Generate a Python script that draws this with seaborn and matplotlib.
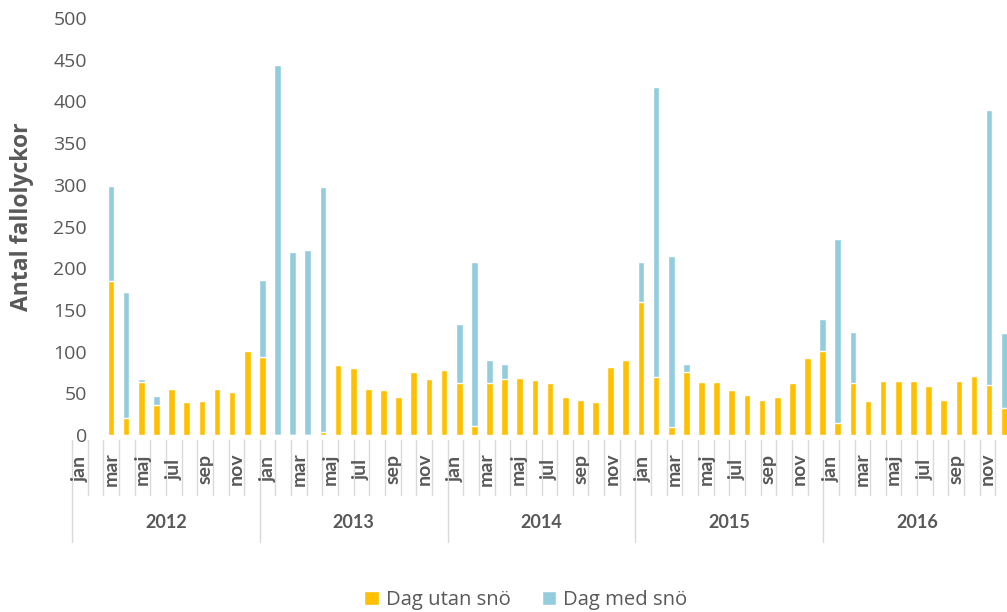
import matplotlib
matplotlib.use("Agg")
import matplotlib.pyplot as plt
from matplotlib.patches import Patch
import numpy as np
import pandas as pd
import seaborn as sns

# Monthly fall accidents, Jan 2012 - Dec 2016
years = [2012, 2013, 2014, 2015, 2016]
months = ["jan", "feb", "mar", "apr", "maj", "jun",
          "jul", "aug", "sep", "okt", "nov", "dec"]
shown_months = {"jan", "mar", "maj", "jul", "sep", "nov"}

dag_utan_sno = [185, 20, 64, 36, 55, 39, 41, 55, 51, 101, 93, 0,
                0, 0, 4, 84, 80, 55, 54, 45, 75, 67, 78, 62,
                11, 62, 67, 68, 66, 62, 45, 42, 40, 81, 90, 160,
                70, 10, 76, 63, 63, 54, 48, 42, 46, 62, 92, 101,
                14, 62, 41, 65, 65, 65, 59, 42, 65, 71, 60, 32]
dag_med_sno = [114, 151, 3, 11, 0, 0, 0, 0, 0, 0, 93, 444,
               219, 222, 293, 0, 0, 0, 0, 0, 0, 0, 0, 71,
               197, 28, 18, 0, 0, 0, 0, 0, 0, 0, 0, 48,
               347, 205, 9, 0, 0, 0, 0, 0, 0, 0, 0, 38,
               221, 62, 1, 0, 0, 0, 0, 0, 0, 0, 330, 90]

ORANGE = "#FFC000"
BLUE = "#93CDDD"
TEXT = "#595959"
GRID = "#D9D9D9"

sns.set_theme(style="white")
plt.rcParams["font.family"] = ["Open Sans", "DejaVu Sans"]

df = pd.DataFrame({
    "period": np.arange(len(dag_utan_sno)),
    "utan": dag_utan_sno,
    "med": dag_med_sno,
})
df["total"] = df["utan"] + df["med"]

fig = plt.figure(figsize=(10.07, 6.12), dpi=100)
W, H = 1007, 612

# main bar area (right edge runs to the figure border)
ax = fig.add_axes([95 / W, 1 - 435 / H, (1007 - 95) / W, (435 - 18) / H])
sns.barplot(data=df, x="period", y="total", color=BLUE, width=0.44,
            saturation=1, ax=ax)
sns.barplot(data=df, x="period", y="utan", color=ORANGE, width=0.44,
            saturation=1, ax=ax)
ax.set_xlim(-1.057, 59.18)
ax.set_ylim(0, 500)
ax.set_yticks(np.arange(0, 501, 50))
ax.tick_params(axis="y", length=0, pad=5.8, labelsize=14, labelcolor=TEXT)
ax.set_xticks([])
ax.set_xlabel("")
ax.set_ylabel("")
for s in ax.spines.values():
    s.set_visible(False)

fig.text(22 / W, 1 - 217 / H, "Antal fallolyckor", rotation=90,
         ha="center", va="center", fontsize=16.5, fontweight="bold", color=TEXT)

# two-level category axis: months over years
lab = fig.add_axes([72 / W, 1 - 545 / H, (1011 - 72) / W, 105 / H])
lab.set_xlim(0, 60)
lab.set_ylim(0, 1)
lab.axis("off")
top = 1.0
short_end = (545 - 495) / 105
long_end = (545 - 542) / 105
for i in range(61):
    end = long_end if i % 12 == 0 else short_end
    lab.plot([i, i], [top, end], color=GRID, lw=1, clip_on=False)
for y_i, yr in enumerate(years):
    for m_i, m in enumerate(months):
        if m in shown_months:
            lab.text(y_i * 12 + m_i + 0.5, (545 - 469) / 105, m, rotation=90,
                     ha="center", va="center", fontsize=14, fontweight="bold",
                     color=TEXT, family=["Lato", "DejaVu Sans"], clip_on=False)
    lab.text(y_i * 12 + 6, (545 - 523) / 105, str(yr), ha="center",
             va="center", fontsize=13, fontweight="bold", color=TEXT,
             family=["Lato", "DejaVu Sans"], clip_on=False)

handles = [Patch(facecolor=ORANGE, label="Dag utan snö"),
           Patch(facecolor=BLUE, label="Dag med snö")]
fig.legend(handles=handles, loc="center", bbox_to_anchor=(526 / W, 1 - 600 / H),
           ncol=2, frameon=False, fontsize=14.6, labelcolor=TEXT,
           handlelength=0.72, handleheight=0.72, handletextpad=0.36,
           columnspacing=1.5)

fig.savefig("out.png", dpi=100)
